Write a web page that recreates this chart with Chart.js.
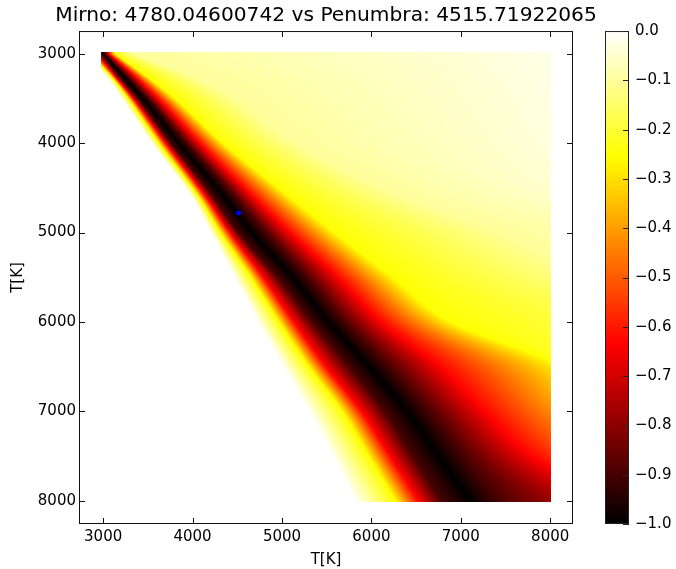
<!DOCTYPE html>
<html>
<head>
<meta charset="utf-8">
<script src="https://cdn.jsdelivr.net/npm/chart.js@4.4.1/dist/chart.umd.min.js"></script>
<style>
html,body{margin:0;padding:0;background:#ffffff;}
#wrap{width:676px;height:569px;}
</style>
</head>
<body>
<div id="wrap"><canvas id="c" width="676" height="569"></canvas></div>
<script>
// ---------------- data ----------------
const titleText = 'Mirno: 4780.04600742 vs Penumbra: 4515.71922065';
const axisLabel = 'T[K]';
const tickValues = [3000, 4000, 5000, 6000, 7000, 8000];
const colorTicks = [0.0, -0.1, -0.2, -0.3, -0.4, -0.5, -0.6, -0.7, -0.8, -0.9, -1.0];
const bestPenumbra = 4515.71922065;   // x of the blue point
const bestMirno = 4780.04600742;      // y of the blue point
const gridExtent = [2980, 8010];      // temperature span covered by the map
const lastColumnT = 8000;             // last sampled temperature (right edge)

// rows of the map (Mirno temperature, K)
const rowT        = [3000, 3250, 3500, 4000, 4600, 5000, 5500, 6000, 6500, 7000, 7500, 8000];
// Penumbra temperature (K) where each row crosses the value levels (null = outside the map)
const whiteLeft   = [null, 3030, 3206, 3541, 3989, 4202, 4467, 4728, 5008, 5295, 5556, 5817]; //  0.00
const yellowLeft  = [null, 3086, 3280, 3623, 4067, 4310, 4650, 4963, 5295, 5668, 5966, 6265]; // -0.25
const redLeft     = [null, 3131, 3336, 3698, 4150, 4418, 4791, 5134, 5493, 5892, 6209, 6526]; // -0.63
const coreLeft    = [2980, 3176, 3385, 3758, 4232, 4511, 4955, 5340, 5754, 6153, 6470, 6787]; // -0.90
const bandCenter  = [3000, 3222, 3445, 3845, 4353, 4664, 5117, 5519, 5974, 6395, 6750, 7105]; // -1.00
const coreRight   = [3020, 3269, 3504, 3933, 4474, 4817, 5280, 5698, 6194, 6638, 7030, 7422]; // -0.90
const redRight    = [3065, 3355, 3616, 4082, 4679, 5090, 5631, 6116, 6772, 7272, 7800, null]; // -0.63
const yellowRight = [3130, 3485, 3803, 4344, 5090, 5593, 6246, 6900, null, null, null, null]; // -0.25
const paleRight   = [3317, 3989, 4474, 5150, 6350, 7450, null, null, null, null, null, null]; // -0.10
// value of each row at the right edge of the map
const edgeValue   = [-0.025, -0.028, -0.03, -0.035, -0.055, -0.088, -0.135, -0.2, -0.29, -0.43, -0.58, -0.78];

// ---------------- rendering helpers ----------------
const LEFT_LEVELS = [0, -0.25, -0.63, -0.9];
const RIGHT_LEVELS = [-0.9, -0.63, -0.25, -0.1];
const FAR_LEVEL = -0.02;

function hot(v) {
  const t = Math.min(1, Math.max(0, v + 1));
  const c = (a) => Math.round(255 * Math.min(1, Math.max(0, a)));
  return [c(t / 0.365079), c((t - 0.365079) / 0.380953), c((t - 0.746032) / 0.253968)];
}

function rowKnots(r) {
  const c = bandCenter[r];
  const left = [whiteLeft[r], yellowLeft[r], redLeft[r], coreLeft[r]];
  for (let k = left.length - 1; k >= 0; k--) {
    if (left[k] === null) {
      const xi = left[k + 1], vi = LEFT_LEVELS[k + 1];
      const xo = (k + 2 < left.length) ? left[k + 2] : c;
      const vo = (k + 2 < left.length) ? LEFT_LEVELS[k + 2] : -1;
      const slope = (xi - xo) / (vi - vo);
      left[k] = xi + (LEFT_LEVELS[k] - vi) * slope;
    }
  }
  const right = [coreRight[r], redRight[r], yellowRight[r], paleRight[r]];
  let lastX = c, lastV = -1;
  const e = edgeValue[r];
  const rightLevels = RIGHT_LEVELS.concat([FAR_LEVEL]);
  right.push(null);
  for (let k = 0; k < right.length; k++) {
    if (right[k] === null) {
      right[k] = lastX + (rightLevels[k] - lastV) * (lastColumnT - lastX) / (e - lastV);
    }
    lastX = right[k]; lastV = rightLevels[k];
  }
  return left.concat([c], right);
}
const KNOT_VALUES = LEFT_LEVELS.concat([-1], RIGHT_LEVELS, [FAR_LEVEL]);
const rowKnotCache = rowT.map((_, r) => rowKnots(r));
const nK = KNOT_VALUES.length;
// Hermite tangents of every knot series along the rows (drawing only)
const tangents = rowT.map((_, r) => {
  const out = [];
  const p = rowKnotCache;
  for (let k = 0; k < nK; k++) {
    let m;
    if (r === 0) m = (p[1][k] - p[0][k]) / (rowT[1] - rowT[0]);
    else if (r === rowT.length - 1) m = (p[r][k] - p[r - 1][k]) / (rowT[r] - rowT[r - 1]);
    else {
      const d0 = (p[r][k] - p[r - 1][k]) / (rowT[r] - rowT[r - 1]);
      const d1 = (p[r + 1][k] - p[r][k]) / (rowT[r + 1] - rowT[r]);
      m = (d0 + d1) / 2;
    }
    out.push(m);
  }
  return out;
});

function knotsAt(yT) {
  const n = rowT.length;
  if (yT <= rowT[0]) return rowKnotCache[0];
  if (yT >= rowT[n - 1]) return rowKnotCache[n - 1];
  let r = 0;
  while (r < n - 2 && yT > rowT[r + 1]) r++;
  const h = rowT[r + 1] - rowT[r];
  const t = (yT - rowT[r]) / h;
  const t2 = t * t, t3 = t2 * t;
  const h00 = 2 * t3 - 3 * t2 + 1, h10 = t3 - 2 * t2 + t, h01 = -2 * t3 + 3 * t2, h11 = t3 - t2;
  const a = rowKnotCache[r], b = rowKnotCache[r + 1], ma = tangents[r], mb = tangents[r + 1];
  const res = a.map((x, k) => h00 * x + h10 * h * ma[k] + h01 * b[k] + h11 * h * mb[k]);
  for (let k = 1; k < res.length; k++) if (res[k] < res[k - 1]) res[k] = res[k - 1];
  return res;
}

function valueAt(knots, xT) {
  if (xT <= knots[0]) return KNOT_VALUES[0];
  for (let k = 1; k < knots.length; k++) {
    if (xT <= knots[k]) {
      const f = (xT - knots[k - 1]) / Math.max(1e-9, knots[k] - knots[k - 1]);
      return KNOT_VALUES[k - 1] + (KNOT_VALUES[k] - KNOT_VALUES[k - 1]) * f;
    }
  }
  return KNOT_VALUES[KNOT_VALUES.length - 1];
}

const FONT = 'DejaVu Sans';
const fmtColor = (v) => (v < 0 ? '\u2212' : '') + Math.abs(v).toFixed(1);

const heatmapPlugin = {
  id: 'heatmap',
  beforeDatasetsDraw(chart) {
    const xs = chart.scales.x, ys = chart.scales.y, ctx = chart.ctx;
    const px0 = Math.round(xs.getPixelForValue(gridExtent[0]));
    const px1 = Math.round(xs.getPixelForValue(gridExtent[1]));
    const py0 = Math.round(ys.getPixelForValue(gridExtent[0]));
    const py1 = Math.round(ys.getPixelForValue(gridExtent[1]));
    const w = px1 - px0, h = py1 - py0;
    const off = document.createElement('canvas');
    off.width = w; off.height = h;
    const octx = off.getContext('2d');
    const img = octx.createImageData(w, h);
    for (let j = 0; j < h; j++) {
      const yT = ys.getValueForPixel(py0 + j + 0.5);
      const knots = knotsAt(yT);
      for (let i = 0; i < w; i++) {
        const xT = xs.getValueForPixel(px0 + i + 0.5);
        const [r, g, b] = hot(valueAt(knots, xT));
        const o = (j * w + i) * 4;
        img.data[o] = r; img.data[o + 1] = g; img.data[o + 2] = b; img.data[o + 3] = 255;
      }
    }
    octx.putImageData(img, 0, 0);
    ctx.drawImage(off, px0, py0);
  },
  afterDraw(chart) {
    const ctx = chart.ctx, a = chart.chartArea;
    const xs = chart.scales.x, ys = chart.scales.y, cb = chart.scales.cb;
    ctx.save();
    ctx.strokeStyle = '#111';
    ctx.lineWidth = 1;
    ctx.strokeRect(a.left + 0.5, a.top + 0.5, a.right - a.left - 1, a.bottom - a.top - 1);
    const tl = 6;
    ctx.beginPath();
    xs.ticks.forEach(t => {
      const x = Math.round(xs.getPixelForValue(t.value)) + 0.5;
      ctx.moveTo(x, a.bottom); ctx.lineTo(x, a.bottom - tl);
      ctx.moveTo(x, a.top); ctx.lineTo(x, a.top + tl);
    });
    ys.ticks.forEach(t => {
      const y = Math.round(ys.getPixelForValue(t.value)) + 0.5;
      ctx.moveTo(a.left, y); ctx.lineTo(a.left + tl, y);
      ctx.moveTo(a.right, y); ctx.lineTo(a.right - tl, y);
    });
    ctx.stroke();
    // colorbar
    const cbLeft = cb.left + 32, cbW = 24;
    const top = cb.getPixelForValue(0), bot = cb.getPixelForValue(-1);
    const grad = ctx.createLinearGradient(0, top, 0, bot);
    for (let k = 0; k <= 100; k++) {
      const [r, g, b] = hot(-k / 100);
      grad.addColorStop(k / 100, `rgb(${r},${g},${b})`);
    }
    ctx.fillStyle = grad;
    ctx.fillRect(cbLeft, top, cbW, bot - top);
    ctx.strokeStyle = '#222';
    ctx.strokeRect(cbLeft + 0.5, top + 0.5, cbW - 1, bot - top - 1);
    ctx.beginPath();
    cb.ticks.forEach(t => {
      const y = Math.round(cb.getPixelForValue(t.value)) + 0.5;
      ctx.moveTo(cbLeft + cbW, y); ctx.lineTo(cbLeft + cbW - 6, y);
    });
    ctx.stroke();
    ctx.restore();
  }
};

const fixedTicks = (vals) => (scale) => { scale.ticks = vals.map(v => ({value: v})); };

new Chart(document.getElementById('c'), {
  type: 'scatter',
  data: {
    datasets: [{
      data: [{x: bestPenumbra, y: bestMirno}],
      pointRadius: 2.5,
      pointHoverRadius: 2.5,
      backgroundColor: '#0000ff',
      borderColor: '#0000ff',
      borderWidth: 0
    }]
  },
  options: {
    responsive: false,
    animation: false,
    devicePixelRatio: 1,
    events: [],
    layout: {padding: {left: -24, right: 0, top: 0, bottom: 0}},
    plugins: {
      legend: {display: false},
      tooltip: {enabled: false},
      title: {
        display: true,
        text: titleText,
        color: '#000',
        font: {family: FONT, size: 20.2, weight: 'normal', lineHeight: 1.2},
        padding: {top: 3.5, bottom: 3.3}
      }
    },
    scales: {
      x: {
        type: 'linear', position: 'bottom', min: 2730, max: 8255,
        afterBuildTicks: fixedTicks(tickValues),
        afterFit: (s) => { s.height = 45; },
        ticks: {color: '#000', font: {family: FONT, size: 15}, padding: 0, maxRotation: 0,
                callback: (v) => String(v)},
        grid: {display: false, drawTicks: true, tickLength: 4.5},
        border: {display: false},
        title: {display: true, text: axisLabel, color: '#000', font: {family: FONT, size: 15, lineHeight: 1.2}, padding: 0}
      },
      y: {
        type: 'linear', position: 'left', reverse: true, min: 2745, max: 8260,
        afterBuildTicks: fixedTicks(tickValues),
        afterFit: (s) => { s.width = 103; },
        ticks: {color: '#000', font: {family: FONT, size: 15}, padding: 0,
                callback: (v) => String(v)},
        grid: {display: false, drawTicks: true, tickLength: 3},
        border: {display: false},
        title: {display: true, text: axisLabel, color: '#000', font: {family: FONT, size: 15, lineHeight: 1.2}, padding: {top: 33, bottom: 0}}
      },
      cb: {
        axis: 'y', type: 'linear', position: 'right', min: -1, max: 0,
        afterBuildTicks: fixedTicks(colorTicks),
        afterFit: (s) => { s.width = 103; },
        ticks: {color: '#000', font: {family: FONT, size: 15}, padding: 0, callback: (v) => fmtColor(v)},
        grid: {display: false, drawTicks: true, tickLength: 62},
        border: {display: false}
      }
    }
  },
  plugins: [heatmapPlugin]
});
</script>
</body>
</html>
